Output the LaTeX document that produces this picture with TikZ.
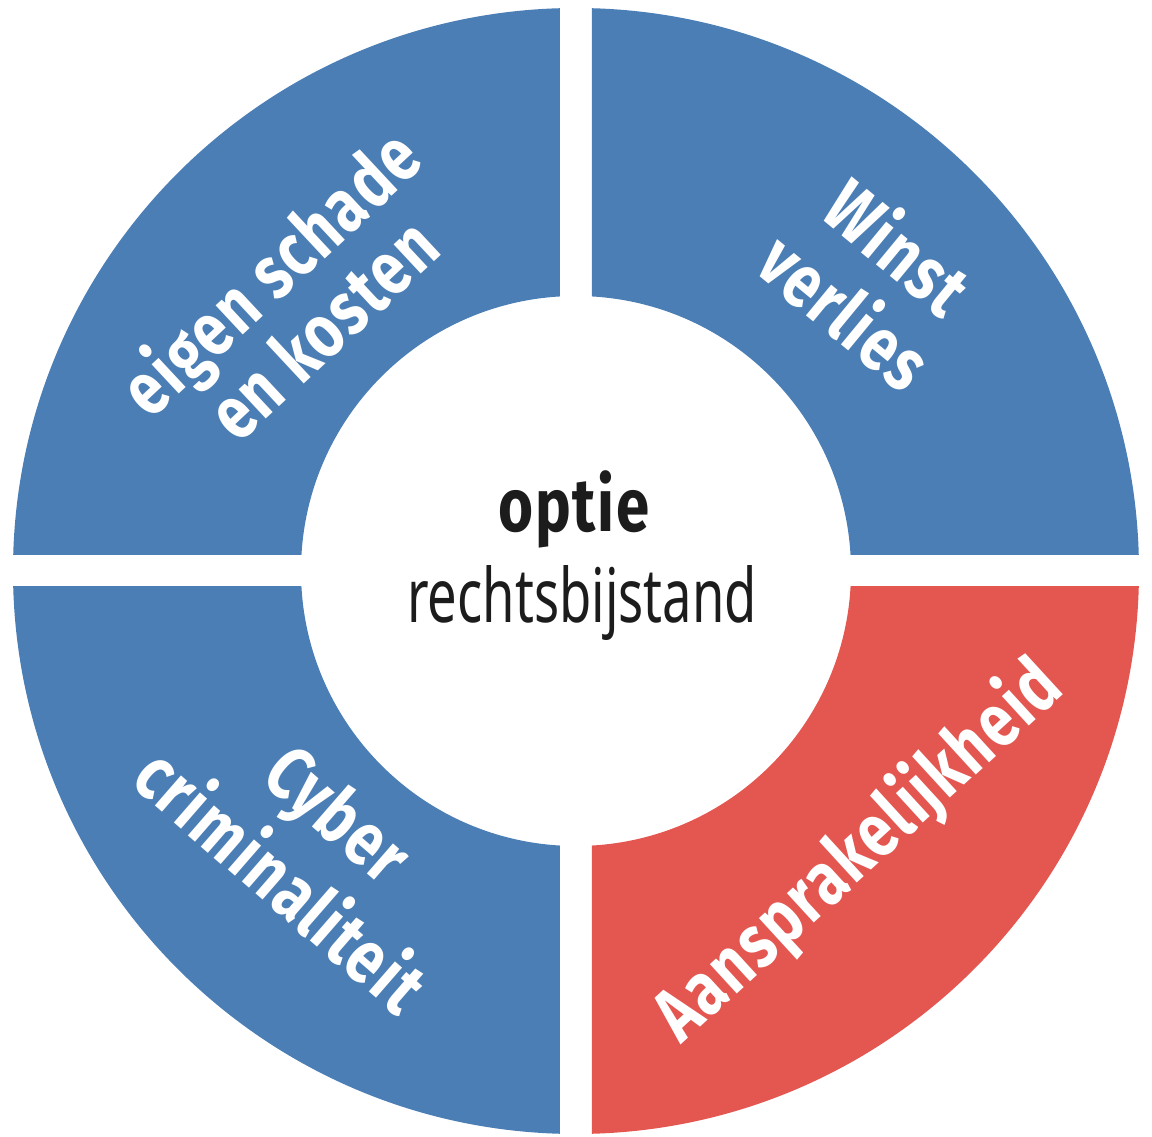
\documentclass[tikz,border=0pt]{standalone}
\usepackage{fontspec}
\setmainfont{Noto Sans}
\newfontfamily\boldfam[LetterSpace=3]{Fira Sans}
\definecolor{ringblue}{HTML}{4A7EB5}
\definecolor{ringred}{HTML}{E45650}
\definecolor{inktext}{HTML}{1C1C1C}
\newcommand{\seglines}[2]{\scalebox{0.8}[1]{\boldfam\bfseries\fontsize{75}{#1}\selectfont\begin{tabular}{@{}c@{}}#2\end{tabular}}}
\tikzset{
  seglabel/.style={text=white, inner sep=0pt},
  ringpart/.style={even odd rule}
}
\begin{document}
\begin{tikzpicture}[x=1pt,y=1pt]
\useasboundingbox (-576,-566) rectangle (576,571);
% quadrants
\begin{scope}
  \clip (16,16) rectangle (600,600);
  \fill[ringblue, ringpart] (0,0) circle[radius=563pt] (0,0) circle[radius=275pt];
\end{scope}
\begin{scope}
  \clip (-16,16) rectangle (-600,600);
  \fill[ringblue, ringpart] (0,0) circle[radius=563pt] (0,0) circle[radius=275pt];
\end{scope}
\begin{scope}
  \clip (-16,-16) rectangle (-600,-600);
  \fill[ringblue, ringpart] (0,0) circle[radius=563pt] (0,0) circle[radius=275pt];
\end{scope}
\begin{scope}
  \clip (16,-16) rectangle (600,-600);
  \fill[ringred, ringpart] (0,0) circle[radius=563pt] (0,0) circle[radius=275pt];
\end{scope}
% labels
\node[seglabel, rotate=43] (eigen) at (-275,265) {\seglines{68}{eigen schade\\en kosten}};
\node[seglabel, rotate=-39.5] (winst) at (290,285) {\seglines{76}{Winst\\verlies}};
\node[seglabel, rotate=-41] (cyber) at (-272,-283) {\seglines{88}{Cyber\\criminaliteit}};
\node[seglabel, rotate=42.5] (aans) at (283,-281) {\scalebox{0.8}[1]{\boldfam\bfseries\fontsize{75}{75}\selectfont Aansprakelijkheid}};
% centre
\node[anchor=base, inner sep=0pt, text=inktext] (optie) at (-2,39) {\scalebox{0.8}[1]{\boldfam\bfseries\fontsize{75}{75}\selectfont optie}};
\node[anchor=base, inner sep=0pt, text=inktext] (recht) at (6,-52) {\scalebox{0.7}[1]{\fontsize{75}{75}\selectfont rechtsbijstand}};
\end{tikzpicture}
\end{document}
